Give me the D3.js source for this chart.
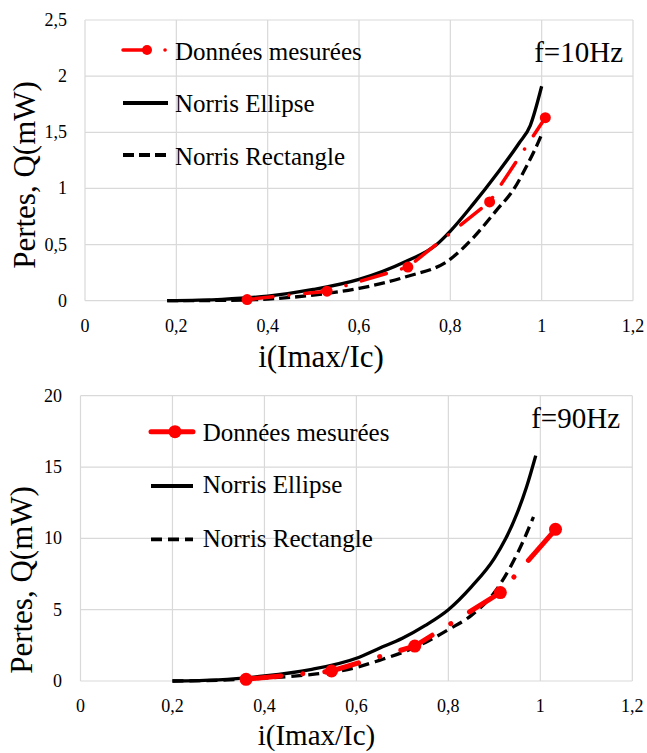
<!DOCTYPE html>
<html><head><meta charset="utf-8">
<script src="https://cdn.jsdelivr.net/npm/d3@7"></script>
<style>
html,body{margin:0;padding:0;background:#fff;}
svg{display:block;}
</style></head>
<body><svg id="c" width="647" height="753" font-family="'Liberation Serif', 'Times New Roman', Tinos, 'DejaVu Serif', serif"></svg>
<script>
// ---------- data ----------
const xTicks = [0, 0.2, 0.4, 0.6, 0.8, 1, 1.2];
const yTicksTop = [0, 0.5, 1, 1.5, 2, 2.5];
const yTicksBottom = [0, 5, 10, 15, 20];
const seriesNames = ["Données mesurées", "Norris Ellipse", "Norris Rectangle"];
const titleTop = "f=10Hz";
const titleBottom = "f=90Hz";
const xAxisTitle = "i(Imax/Ic)";
const yAxisTitle = "Pertes, Q(mW)";

// f = 10 Hz
const measX10 = [0.355, 0.53, 0.707, 0.886, 1.008];
const measY10 = [0.01, 0.085, 0.30, 0.88, 1.63];
const ellX10 = [0.18, 0.3, 0.4, 0.5, 0.6, 0.7, 0.77, 0.8, 0.85, 0.9, 0.95, 0.975, 1.0];
const ellY10 = [0, 0.012, 0.04, 0.1, 0.19, 0.345, 0.5, 0.62, 0.86, 1.12, 1.4, 1.56, 1.91];
const recX10 = [0.18, 0.3, 0.4, 0.5, 0.6, 0.7, 0.8, 0.85, 0.9, 0.94, 0.966, 0.988, 1.0];
const recY10 = [0, 0.003, 0.015, 0.05, 0.11, 0.21, 0.37, 0.56, 0.8, 1.0, 1.19, 1.37, 1.48];

// f = 90 Hz
const measX90 = [0.36, 0.546, 0.727, 0.913, 1.033];
const measY90 = [0.12, 0.7, 2.45, 6.2, 10.63];
const ellX90 = [0.2, 0.3, 0.4, 0.5, 0.6, 0.65, 0.7, 0.75, 0.8, 0.85, 0.9, 0.925, 0.95, 0.97, 0.99];
const ellY90 = [0, 0.08, 0.35, 0.8, 1.6, 2.3, 3.0, 3.9, 5.0, 6.6, 8.6, 10.0, 11.8, 13.6, 15.8];
const recX90 = [0.2, 0.3, 0.4, 0.5, 0.6, 0.65, 0.7, 0.75, 0.8, 0.85, 0.9, 0.935, 0.964, 0.985];
const recY90 = [0, 0.05, 0.2, 0.45, 0.95, 1.45, 2.0, 2.7, 3.6, 4.6, 6.2, 8.0, 9.9, 11.5];

const zip = (xs, ys) => xs.map((x, i) => ({x, y: ys[i]}));

const panels = [
  {
    left: 85, right: 633, top: 20, bottom: 300.7, yMax: 2.5, yTicks: yTicksTop,
    yLabelRight: 67, xLabelBase: 331.5, yTitleX: 35, yTitleY: 175,
    xTitleX: 321, xTitleY: 366.5, xTitleSize: 31,
    title: titleTop, titleX: 623, titleY: 61.7,
    meas: zip(measX10, measY10), ell: zip(ellX10, ellY10), rec: zip(recX10, recY10),
    redW: 3.5, redDash: "26,16,0.1,16", r: 5.5, blackW: 3.3, dash: "11,5",
    legX1: 123, legX2: 168, legMarkX: 147, legTextX: 175,
    legY: [50, 103, 155], legBase: [60, 111.7, 165], legR: 5, legRedDash: "26,16,0.1,16"
  },
  {
    left: 80.5, right: 632.3, top: 395.7, bottom: 681, yMax: 20, yTicks: yTicksBottom,
    yLabelRight: 62, xLabelBase: 712, yTitleX: 32, yTitleY: 580,
    xTitleX: 316.5, xTitleY: 745, xTitleSize: 29,
    title: titleBottom, titleX: 620, titleY: 428.3,
    meas: zip(measX90, measY90), ell: zip(ellX90, ellY90), rec: zip(recX90, recY90),
    redW: 5, redDash: "35,22,0.1,22", r: 6.5, blackW: 3.3, dash: "11,6",
    legX1: 151, legX2: 193, legMarkX: 175, legTextX: 202.7,
    legY: [431.7, 486, 539.3], legBase: [441, 493.3, 546.7], legR: 6.5, legRedDash: null
  }
];

const svg = d3.select("#c");

panels.forEach(p => {
  const x = d3.scaleLinear().domain([0, 1.2]).range([p.left, p.right]);
  const y = d3.scaleLinear().domain([0, p.yMax]).range([p.bottom, p.top]);
  const g = svg.append("g");

  // gridlines
  g.selectAll(".vg").data(xTicks).join("line")
    .attr("x1", d => x(d)).attr("x2", d => x(d))
    .attr("y1", p.top).attr("y2", p.bottom)
    .attr("stroke", "#d9d9d9").attr("stroke-width", 1.2);
  g.selectAll(".hg").data(p.yTicks).join("line")
    .attr("x1", p.left).attr("x2", p.right)
    .attr("y1", d => y(d)).attr("y2", d => y(d))
    .attr("stroke", "#d9d9d9").attr("stroke-width", 1.2);

  // tick labels
  const fmt = d => String(d).replace(".", ",");
  g.selectAll(".xl").data(xTicks).join("text")
    .attr("x", d => x(d)).attr("y", p.xLabelBase)
    .attr("text-anchor", "middle").attr("font-size", 18).text(fmt);
  g.selectAll(".yl").data(p.yTicks).join("text")
    .attr("x", p.yLabelRight).attr("y", d => y(d) + 6)
    .attr("text-anchor", "end").attr("font-size", 18).text(fmt);

  // axis titles
  g.append("text").attr("x", p.xTitleX).attr("y", p.xTitleY)
    .attr("text-anchor", "middle").attr("font-size", p.xTitleSize).text(xAxisTitle);
  g.append("text").attr("transform", `translate(${p.yTitleX},${p.yTitleY}) rotate(-90)`)
    .attr("text-anchor", "middle").attr("font-size", 31).text(yAxisTitle);

  // frequency label
  g.append("text").attr("x", p.titleX).attr("y", p.titleY)
    .attr("text-anchor", "end").attr("font-size", 29).text(p.title);

  const smooth = d3.line().x(d => x(d.x)).y(d => y(d.y)).curve(d3.curveMonotoneX);
  const straight = d3.line().x(d => x(d.x)).y(d => y(d.y));

  // Norris Rectangle (dashed)
  g.append("path").attr("d", smooth(p.rec)).attr("fill", "none")
    .attr("stroke", "#000").attr("stroke-width", p.blackW)
    .attr("stroke-dasharray", p.dash);
  // Norris Ellipse
  g.append("path").attr("d", smooth(p.ell)).attr("fill", "none")
    .attr("stroke", "#000").attr("stroke-width", p.blackW);
  // measured
  g.append("path").attr("d", straight(p.meas)).attr("fill", "none")
    .attr("stroke", "#ff0000").attr("stroke-width", p.redW)
    .attr("stroke-linecap", "round")
    .attr("stroke-dasharray", p.redDash);
  g.selectAll(".pt").data(p.meas).join("circle")
    .attr("cx", d => x(d.x)).attr("cy", d => y(d.y)).attr("r", p.r)
    .attr("fill", "#ff0000");

  // legend
  const leg = g.append("g");
  leg.append("line").attr("x1", p.legX1).attr("x2", p.legX2)
    .attr("y1", p.legY[0]).attr("y2", p.legY[0])
    .attr("stroke", "#ff0000").attr("stroke-width", p.redW)
    .attr("stroke-linecap", "round")
    .attr("stroke-dasharray", p.legRedDash);
  leg.append("circle").attr("cx", p.legMarkX).attr("cy", p.legY[0]).attr("r", p.legR)
    .attr("fill", "#ff0000");
  leg.append("line").attr("x1", p.legX1).attr("x2", p.legX2)
    .attr("y1", p.legY[1]).attr("y2", p.legY[1])
    .attr("stroke", "#000").attr("stroke-width", p.blackW + 0.5);
  leg.append("line").attr("x1", p.legX1).attr("x2", p.legX2)
    .attr("y1", p.legY[2]).attr("y2", p.legY[2])
    .attr("stroke", "#000").attr("stroke-width", p.blackW + 0.5)
    .attr("stroke-dasharray", p.dash);
  seriesNames.forEach((name, i) => {
    leg.append("text").attr("x", p.legTextX).attr("y", p.legBase[i])
      .attr("font-size", 25).text(name);
  });
});
</script>
</body></html>
